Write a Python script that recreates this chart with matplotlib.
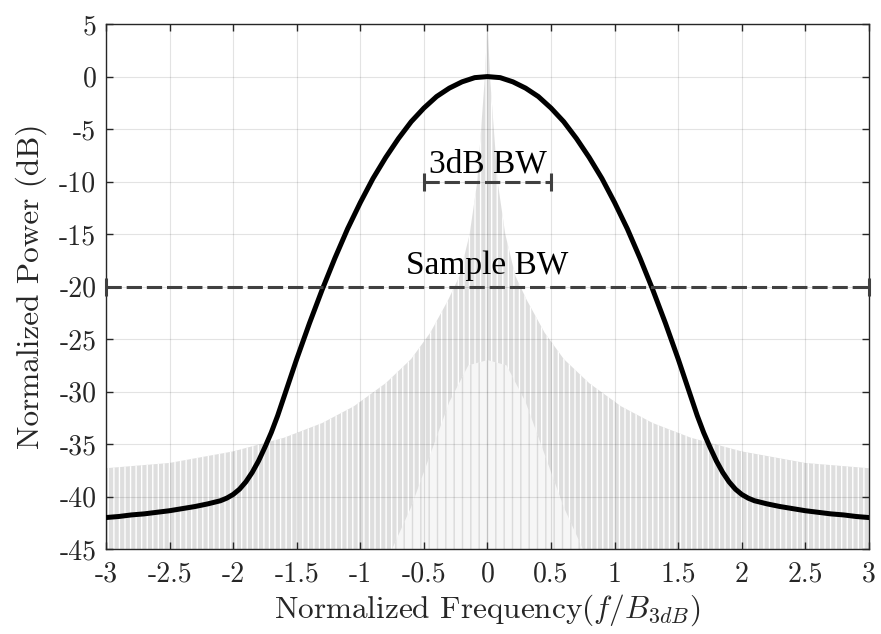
import matplotlib
matplotlib.use("Agg")
import matplotlib.pyplot as plt

plt.rcParams['mathtext.fontset'] = 'cm'
plt.rcParams['axes.unicode_minus'] = False
plt.rcParams['hatch.linewidth'] = 1.0

# filter response (black curve)
freq = [-3.0, -2.9, -2.8, -2.7, -2.6, -2.5, -2.4, -2.3, -2.2, -2.15, -2.1, -2.05,
        -2.0, -1.95, -1.9, -1.85, -1.8, -1.75, -1.7, -1.65, -1.6, -1.5, -1.4, -1.3,
        -1.2, -1.1, -1.0, -0.9, -0.8, -0.7, -0.6, -0.5, -0.4, -0.3, -0.2, -0.1,
        0.0,
        0.1, 0.2, 0.3, 0.4, 0.5, 0.6, 0.7, 0.8, 0.9, 1.0, 1.1, 1.2,
        1.3, 1.4, 1.5, 1.6, 1.65, 1.7, 1.75, 1.8, 1.85, 1.9, 1.95, 2.0,
        2.05, 2.1, 2.15, 2.2, 2.3, 2.4, 2.5, 2.6, 2.7, 2.8, 2.9, 3.0]
response_db = [-42.0, -41.9, -41.75, -41.65, -41.5, -41.35, -41.15, -40.95, -40.7, -40.55, -40.4, -40.15,
               -39.8, -39.3, -38.6, -37.7, -36.6, -35.3, -33.9, -32.3, -30.5, -26.9, -23.5, -20.3,
               -17.3, -14.5, -12.0, -9.7, -7.7, -5.9, -4.3, -3.0, -1.9, -1.1, -0.5, -0.1,
               0.0,
               -0.1, -0.5, -1.1, -1.9, -3.0, -4.3, -5.9, -7.7, -9.7, -12.0, -14.5, -17.3,
               -20.3, -23.5, -26.9, -30.5, -32.3, -33.9, -35.3, -36.6, -37.7, -38.6, -39.3, -39.8,
               -40.15, -40.4, -40.55, -40.7, -40.95, -41.15, -41.35, -41.5, -41.65, -41.75, -41.9, -42.0]

# sampled spectrum (grey spikes): upper envelope of the spikes
spec_x = [-3.0, -2.5, -2.0, -1.6, -1.3, -1.05, -0.8, -0.6, -0.45, -0.31, -0.22, -0.14,
          -0.08, -0.05, -0.02, -0.005, 0.0, 0.005, 0.02, 0.05, 0.08, 0.14, 0.22, 0.31,
          0.45, 0.6, 0.8, 1.05, 1.3, 1.6, 2.0, 2.5, 3.0]
spec_top = [-37.3, -36.8, -35.7, -34.4, -33.0, -31.4, -29.2, -26.9, -24.4, -21.3, -19.0, -15.0,
            -10.0, -5.0, 0.0, 4.0, 4.7, 4.0, 0.0, -5.0, -10.0, -15.0, -19.0, -21.3,
            -24.4, -26.9, -29.2, -31.4, -33.0, -34.4, -35.7, -36.8, -37.3]
# centre zone where the deep nulls leave only sparse lines
null_x = [-0.75, -0.6, -0.45, -0.3, -0.15, 0.0, 0.15, 0.3, 0.45, 0.6, 0.75]
null_top = [-45, -41, -36, -31, -27.5, -27, -27.5, -31, -36, -41, -45]

bw3_x = [-0.5, 0.5]
bw3_level = -10
sample_x = [-3, 3]
sample_level = -20

xticks = [-3, -2.5, -2, -1.5, -1, -0.5, 0, 0.5, 1, 1.5, 2, 2.5, 3]
xticklabels = ['-3', '-2.5', '-2', '-1.5', '-1', '-0.5', '0', '0.5', '1', '1.5', '2', '2.5', '3']
yticks = [-45, -40, -35, -30, -25, -20, -15, -10, -5, 0, 5]
yticklabels = ['-45', '-40', '-35', '-30', '-25', '-20', '-15', '-10', '-5', '0', '5']

fig = plt.figure(figsize=(8.81, 6.34), dpi=100)
ax = fig.add_axes([0.1203, 0.134, 0.866, 0.828])

ax.fill_between(spec_x, -45, spec_top, facecolor='#dedede', edgecolor='white',
                hatch='|||', linewidth=0, zorder=0.3)
ax.fill_between(null_x, -45, null_top, facecolor='#f6f6f6', edgecolor='#dadada',
                hatch='||', linewidth=0, zorder=0.35)

ax.plot(freq, response_db, color='k', lw=3.6, zorder=3)

dash = (0, (5, 1.6))
ax.plot(bw3_x, [bw3_level] * 2, ls=dash, color='#404040', lw=2.2,
        marker='|', ms=13, mew=2.2, zorder=4)
ax.plot(sample_x, [sample_level] * 2, ls=dash, color='#404040', lw=2.2,
        marker='|', ms=13, mew=2.2, zorder=4, clip_on=False)

ax.text(0, -9.1, '3dB BW', ha='center', va='baseline',
        family='Liberation Serif', fontsize=24)
ax.text(0, -18.8, 'Sample BW', ha='center', va='baseline',
        family='Liberation Serif', fontsize=24)

ax.set_xlim(-3, 3)
ax.set_ylim(-45, 5)
ax.set_xticks(xticks, xticklabels, fontfamily='cmr10', fontsize=20)
ax.set_yticks(yticks, yticklabels, fontfamily='cmr10', fontsize=20)
ax.tick_params(direction='in', length=5, width=1, top=True, right=True,
               color='#262626', labelcolor='#262626')
ax.tick_params(axis='x', pad=9)
ax.tick_params(axis='y', pad=7)
for sp in ax.spines.values():
    sp.set_color('#262626')
    sp.set_linewidth(1.0)

ax.grid(True, color='k', alpha=0.11, lw=0.8)
ax.set_axisbelow(True)

ax.set_ylabel('Normalized Power (dB)', fontfamily='cmr10', fontsize=22.5, color='#262626')
ax.set_xlabel('Normalized Frequency$(f/B_{3dB})$', fontfamily='cmr10', fontsize=22.5,
              color='#262626')
ax.yaxis.set_label_coords(-0.077, 0.5)
ax.xaxis.set_label_coords(0.5, -0.082)

fig.savefig('out.png', dpi=100)
